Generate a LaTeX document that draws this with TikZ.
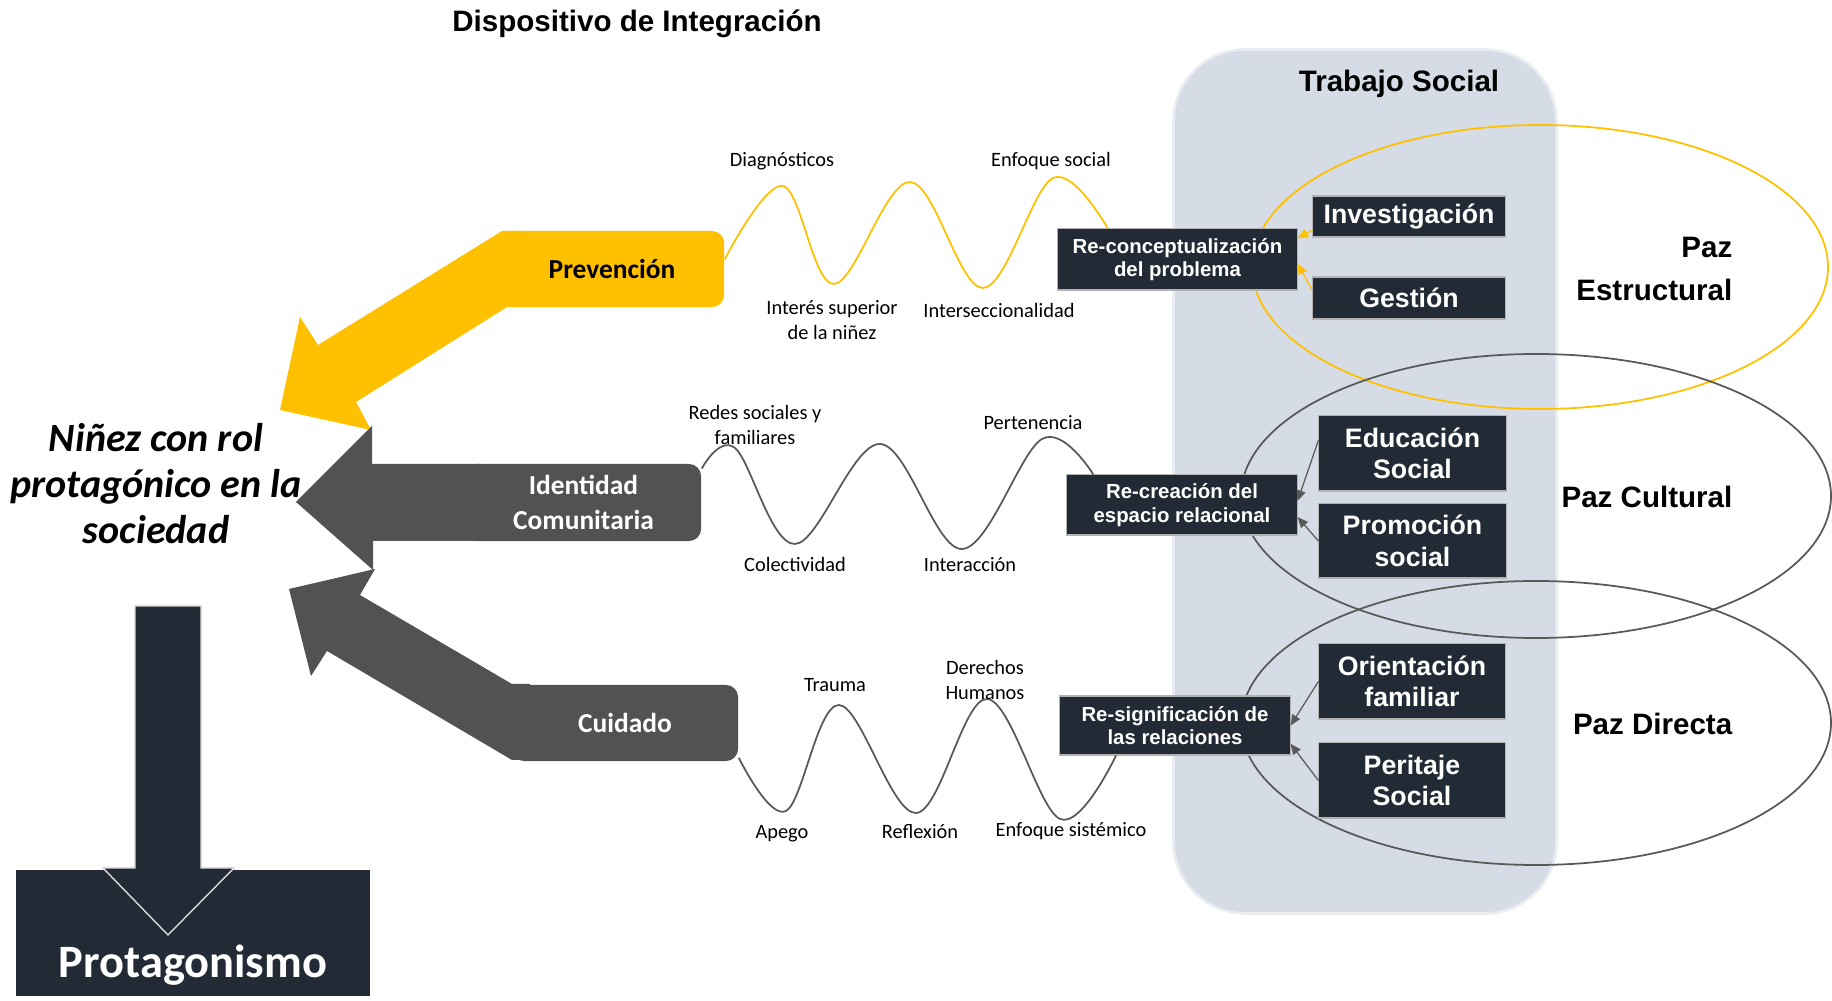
\documentclass[tikz,border=0pt]{standalone}
\usepackage{fontspec}
\setmainfont{Carlito}
\newfontfamily\arialf{Liberation Sans}
\usetikzlibrary{arrows.meta}

\definecolor{amarillo}{HTML}{FFC000}
\definecolor{grisosc}{HTML}{525252}
\definecolor{azulosc}{HTML}{222A35}
\definecolor{fondots}{HTML}{D6DCE5}
\definecolor{grislin}{HTML}{595959}

\begin{document}
\begin{tikzpicture}[x=.01cm,y=-.01cm,
  caja/.style={fill=azulosc,draw=gray!60,line width=.3pt,text=white,align=center,inner sep=0pt,
    font=\arialf\bfseries\fontsize{7.6}{9}\selectfont},
  cajare/.style={caja,font=\arialf\bfseries\fontsize{5.8}{6.7}\selectfont},
  brazo/.style={rounded corners=.12cm,inner sep=0pt,text=white,align=center,
    font=\bfseries\fontsize{7.8}{9.7}\selectfont},
  etiq/.style={font=\fontsize{5.8}{6.9}\selectfont,align=center,inner sep=0pt},
  paz/.style={font=\arialf\bfseries\fontsize{8.4}{12}\selectfont,align=right,anchor=east,inner sep=0pt},
  titulo/.style={font=\arialf\bfseries\fontsize{8.4}{10}\selectfont,inner sep=0pt},
  onda/.style={line width=.5pt},
  flechita/.style={-{Triangle[length=3pt,width=2.6pt]},line width=.35pt}]
\path[use as bounding box] (0,0) rectangle (1832,1001);

% fondo Trabajo Social
\draw[fondots!55,line width=1.6pt,rounded corners=.7cm] (1175,51) rectangle (1555,912);
\fill[fondots,rounded corners=.7cm] (1175,51) rectangle (1555,912);
\node[titulo] (ts) at (1399,84) {Trabajo Social};

% elipses de paz
\draw[amarillo,line width=.5pt] (1540,267) ellipse[x radius=288,y radius=142];
\draw[grislin,line width=.5pt] (1536,496) ellipse[x radius=295,y radius=142];
\draw[grislin,line width=.5pt] (1536,723) ellipse[x radius=295,y radius=142];
\node[paz] (pazest) at (1733,269) {Paz\\Estructural};
\node[paz] (pazcul) at (1733,497) {Paz Cultural};
\node[paz] (pazdir) at (1733,724) {Paz Directa};

\node[titulo] (disp) at (637,24) {Dispositivo de Integración};

% cajas de Trabajo Social
\node[cajare,minimum width=2.39cm,minimum height=.61cm] (recon) at (1177.5,259.5) {Re-conceptualización\\del problema};
\node[caja,minimum width=1.92cm,minimum height=.41cm] (inv) at (1409,216.5) {Investigación};
\node[caja,minimum width=1.93cm,minimum height=.42cm] (gest) at (1409,298) {Gestión};
\node[cajare,minimum width=2.30cm,minimum height=.60cm] (recre) at (1182,505) {Re-creación del\\espacio relacional};
\node[caja,minimum width=1.87cm,minimum height=.75cm] (edu) at (1412.5,453.5) {Educación\\Social};
\node[caja,minimum width=1.87cm,minimum height=.74cm] (prom) at (1412.5,541) {Promoción\\social};
\node[cajare,minimum width=2.30cm,minimum height=.59cm] (resig) at (1175,725.5) {Re-significación de\\las relaciones};
\node[caja,minimum width=1.86cm,minimum height=.75cm] (ori) at (1412,681.5) {Orientación\\familiar};
\node[caja,minimum width=1.86cm,minimum height=.75cm] (peri) at (1412,780.5) {Peritaje\\Social};

\draw[flechita,amarillo] (inv.188) -- (recon.10);
\draw[flechita,amarillo] (gest.175) -- (recon.-2);
\draw[flechita,grislin] (edu.172) -- (recre.2);
\draw[flechita,grislin] (prom.west) -- (recre.-6);
\draw[flechita,grislin] (ori.west) -- (resig.east);
\draw[flechita,grislin] (peri.west) -- (resig.-9);

% brazos
\node[brazo,fill=amarillo,text=black,minimum width=2.24cm,minimum height=.76cm] (prev) at (612,269) {Prevención};
\fill[amarillo] (520,231) -- (502,231) -- (318,345) -- (300,317) -- (280,410) -- (371,430) -- (356,402) -- (507,307) -- (520,307) -- cycle;
\node[brazo,fill=grisosc,minimum width=2.35cm,minimum height=.77cm] (ident) at (583.5,502.5) {Identidad\\Comunitaria};
\fill[grisosc] (480,464) -- (372,464) -- (372,426) -- (296,502) -- (373,570) -- (373,541) -- (480,541) -- cycle;
\node[brazo,fill=grisosc,minimum width=2.26cm,minimum height=.76cm] (cuid) at (625,723) {Cuidado};
\fill[grisosc] (530,684) -- (512,684) -- (360,595) -- (375,569) -- (289,589) -- (311,676) -- (327,651) -- (512,760) -- (530,760) -- cycle;

% ondas
\draw[onda,amarillo] plot[smooth,tension=.6] coordinates {(prev.5) (783,186) (834,284) (910,182) (983,288) (1053,178) (recon.156)};
\draw[onda,grislin] plot[smooth,tension=.6] coordinates {(ident.16) (735,448) (795,544) (880,444) (962,549) (1042,439) (recre.161)};
\draw[onda,grislin] plot[smooth,tension=.6] coordinates {(cuid.-17) (786,811) (839,705) (916,813) (987,699) (1060,819) (resig.207)};

\node[etiq] (diag) at (782,161) {Diagnósticos};
\node[etiq] (enfsoc) at (1051,161) {Enfoque social};
\node[etiq] (interes) at (832,320) {Interés superior\\de la niñez};
\node[etiq] (interseq) at (999,311) {Interseccionalidad};
\node[etiq] (redes) at (755,425) {Redes sociales y\\familiares};
\node[etiq] (pert) at (1033,423) {Pertenencia};
\node[etiq] (colec) at (795,565) {Colectividad};
\node[etiq] (interac) at (970,565) {Interacción};
\node[etiq] (trauma) at (835,685) {Trauma};
\node[etiq] (ddhh) at (985,680) {Derechos\\Humanos};
\node[etiq] (apego) at (782,834) {Apego};
\node[etiq] (reflex) at (920,832) {Reflexión};
\node[etiq] (enfsis) at (1071,831) {Enfoque sistémico};

% centro
\node[font=\bfseries\itshape\fontsize{11.4}{13.1}\selectfont,align=center,inner sep=0pt] (ninez) at (156,484) {Niñez con rol\\protagónico en la\\sociedad};

% protagonismo
\node[fill=azulosc,minimum width=3.54cm,minimum height=1.26cm,inner sep=0pt] (protag) at (193,933) {};
\filldraw[fill=azulosc,draw=white!85!black,line width=.4pt] (135,606) -- (201,606) -- (201,868) -- (234,868) -- (168,935) -- (103,868) -- (135,868) -- cycle;
\node[font=\bfseries\fontsize{13.2}{15}\selectfont,text=white,anchor=base,inner sep=0pt] (protagtxt) at (193,978) {Protagonismo};
\end{tikzpicture}
\end{document}
